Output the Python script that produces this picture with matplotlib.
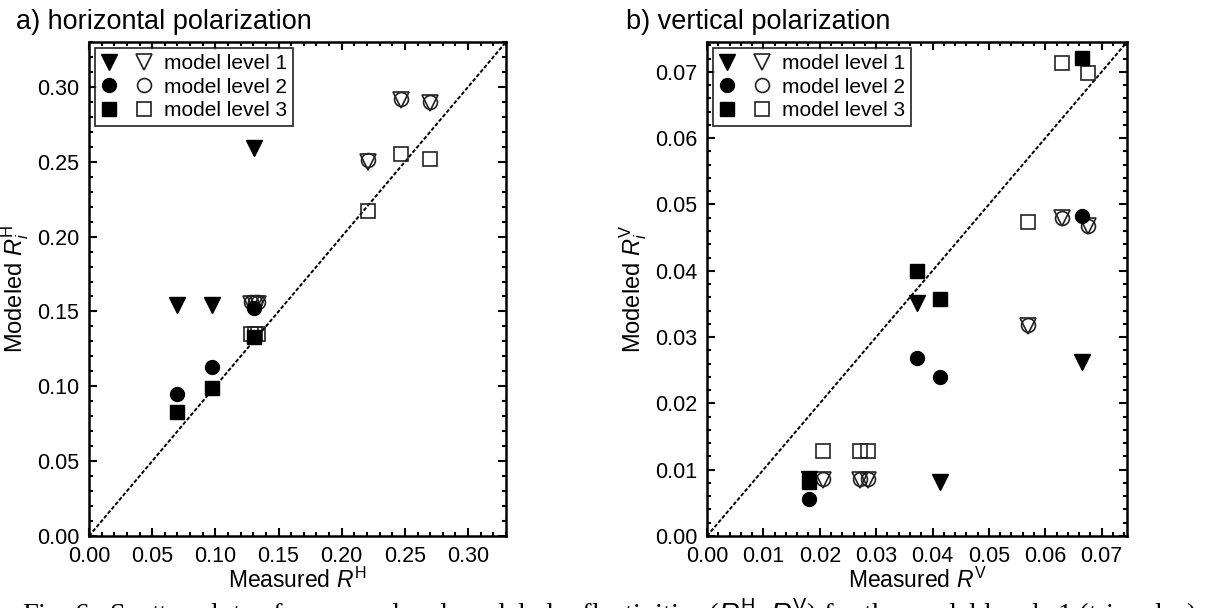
import matplotlib
matplotlib.use("Agg")
import matplotlib.pyplot as plt
from matplotlib.ticker import MultipleLocator, FormatStrFormatter
from matplotlib.legend_handler import HandlerTuple

plt.rcParams['font.family'] = ['Liberation Sans', 'DejaVu Sans']
plt.rcParams['mathtext.fontset'] = 'custom'
plt.rcParams['mathtext.rm'] = 'Liberation Sans'
plt.rcParams['mathtext.it'] = 'Liberation Sans:italic'

# ---- horizontal polarization (panel a) ----
h_meas_filled = [0.0696, 0.0974, 0.1305]
h_lvl1_filled = [0.154, 0.154, 0.259]
h_lvl2_filled = [0.095, 0.113, 0.152]
h_lvl3_filled = [0.083, 0.099, 0.133]

h_meas_open = [0.128, 0.131, 0.134, 0.2204, 0.2468, 0.2698]
h_lvl1_open = [0.155, 0.155, 0.155, 0.250, 0.291, 0.289]
h_lvl2_open = [0.156, 0.156, 0.156, 0.251, 0.292, 0.290]
h_lvl3_open = [0.135, 0.135, 0.135, 0.217, 0.255, 0.252]

# ---- vertical polarization (panel b) ----
v_meas_filled = [0.0181, 0.0373, 0.0414, 0.0665]
v_lvl1_filled = [0.0086, 0.0352, 0.0082, 0.0262]
v_lvl2_filled = [0.0056, 0.0268, 0.0240, 0.0483]
v_lvl3_filled = [0.0082, 0.0400, 0.0357, 0.0721]

v_meas_open = [0.0206, 0.0271, 0.0286, 0.0569, 0.0629, 0.0675]
v_lvl1_open = [0.0085, 0.0085, 0.0085, 0.0317, 0.0479, 0.0467]
v_lvl2_open = [0.0086, 0.0086, 0.0086, 0.0318, 0.0480, 0.0468]
v_lvl3_open = [0.0128, 0.0128, 0.0128, 0.0473, 0.0714, 0.0698]

labels = ['model level 1', 'model level 2', 'model level 3']
markers = [('v', 12), ('o', 10), ('s', 10)]

W, H = 1223, 608
fig = plt.figure(figsize=(W / 100, H / 100), dpi=100)
ax1 = fig.add_axes([89 / W, 1 - 536 / H, 417 / W, 494 / H])
ax2 = fig.add_axes([707 / W, 1 - 536 / H, 420 / W, 494 / H])


def draw(ax, xf, yfs, xo, yos, lim, major, minor, fmt, comp):
    ax.plot([0, lim], [0, lim], color='black', lw=1.4, ls=(0, (2, 1)), zorder=1)
    handles = []
    for (m, ms), yf, yo in zip(markers, yfs, yos):
        hf, = ax.plot(xf, yf, ls='none', marker=m, ms=ms, color='black', zorder=3)
        ho, = ax.plot(xo, yo, ls='none', marker=m, ms=ms, mfc='none', mec='#222222',
                      mew=1.2, zorder=2)
        handles.append((hf, ho))
    ax.set_xlim(0, lim)
    ax.set_ylim(0, lim)
    for axis in (ax.xaxis, ax.yaxis):
        axis.set_major_locator(MultipleLocator(major))
        axis.set_minor_locator(MultipleLocator(minor))
        axis.set_major_formatter(FormatStrFormatter(fmt))
    ax.tick_params(which='both', direction='in', top=True, right=True, labelsize=15.5,
                   width=1.5)
    ax.tick_params(which='major', length=6)
    ax.tick_params(which='minor', length=3)
    ax.xaxis.set_tick_params(which='major', pad=7)
    ax.yaxis.set_tick_params(which='major', pad=7)
    for s in ax.spines.values():
        s.set_linewidth(1.8)
    ax.set_xlabel(r'Measured $R^{\mathrm{%s}}$' % comp, fontsize=16.5, labelpad=1)
    ax.set_ylabel(r'Modeled $R_i^{\mathrm{%s}}$' % comp, fontsize=17, labelpad=4)
    leg = ax.legend(handles, labels, handler_map={tuple: HandlerTuple(ndivide=None, pad=0.9)},
                    loc='upper left', fontsize=15, frameon=True, fancybox=False,
                    edgecolor='black', handlelength=2.4, handletextpad=0.6,
                    labelspacing=0.2, borderpad=0.3, borderaxespad=0.3)
    leg.get_frame().set_linewidth(1.3)


draw(ax1, h_meas_filled, [h_lvl1_filled, h_lvl2_filled, h_lvl3_filled],
     h_meas_open, [h_lvl1_open, h_lvl2_open, h_lvl3_open],
     0.33, 0.05, 0.01, '%.2f', 'H')
draw(ax2, v_meas_filled, [v_lvl1_filled, v_lvl2_filled, v_lvl3_filled],
     v_meas_open, [v_lvl1_open, v_lvl2_open, v_lvl3_open],
     0.0745, 0.01, 0.002, '%.2f', 'V')

fig.text(16 / W, 1 - 29 / H, 'a) horizontal polarization', fontsize=19.5, ha='left', va='baseline')
fig.text(626 / W, 1 - 29 / H, 'b) vertical polarization', fontsize=19.5, ha='left', va='baseline')

fig.text(22 / W, 1 - 596 / H, r'Fig. 6.  Scatter plots of measured and modeled reflectivities '
         r'($R_i^{\mathrm{H}}$, $R_i^{\mathrm{V}}$) for the model levels 1 (triangles),',
         fontsize=20.5, family=['Liberation Serif', 'DejaVu Serif'], ha='left', va='top')

fig.savefig('out.png', dpi=100)
